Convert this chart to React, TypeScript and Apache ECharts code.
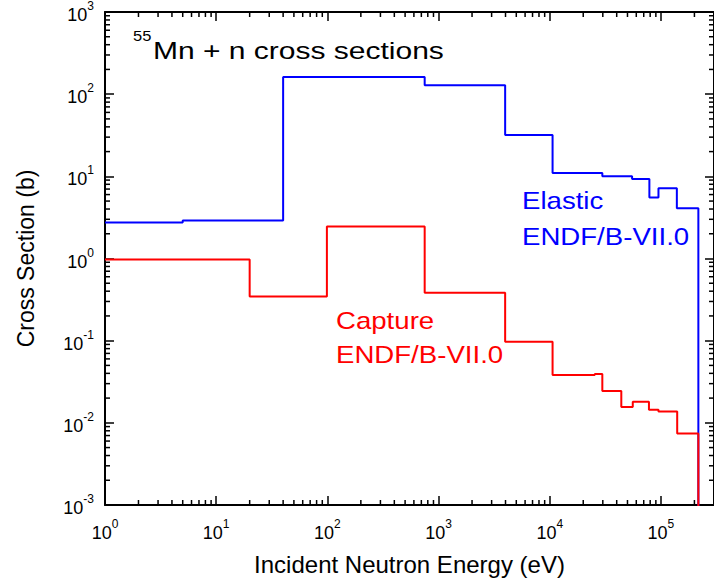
import React, { useEffect, useRef } from 'react';
import * as echarts from 'echarts';

// Elastic (blue) step histogram: group boundaries (eV) and cross sections (b)
const elasticEdges = [1, 5, 40, 750, 3970, 10600, 29700, 55000, 78700, 95000, 139000, 217000];
const elasticValues = [2.75, 2.91, 162, 128, 31.8, 11.0, 10.0, 9.3, 5.53, 7.18, 4.1];

// Capture (red) step histogram
const captureEdges = [1, 20, 99, 750, 3970, 10600, 25400, 29700, 44000, 55800, 78000, 95000, 140000, 217000];
const captureValues = [0.97, 0.345, 2.46, 0.382, 0.097, 0.0383, 0.0392, 0.0244, 0.0156, 0.0181, 0.0144, 0.0137, 0.0074];

const xMin = 1;
const xMax = 3e5;
const yMin = 1e-3;
const yMax = 1e3;
const xDecades = [0, 1, 2, 3, 4, 5];
const yDecades = [-3, -2, -1, 0, 1, 2];
const minorSteps = [2, 3, 4, 5, 6, 7, 8, 9];
const floorValue = 1e-6;

const FONT = '"Liberation Sans", Arial, sans-serif';

function stepData(edges: number[], values: number[]) {
  const pts: number[][] = values.map((v, i) => [edges[i], v]);
  pts.push([edges[edges.length - 1], floorValue]);
  return pts;
}

function supLabel(v: number) {
  const e = Math.log10(v);
  const r = Math.round(e);
  if (Math.abs(e - r) > 1e-6) return '';
  return `{b|10}{s|${r}}`;
}

const labelRich = {
  b: { fontSize: 18, fontFamily: FONT, color: '#000', verticalAlign: 'bottom', lineHeight: 24 },
  s: { fontSize: 12, fontFamily: FONT, color: '#000', verticalAlign: 'top', lineHeight: 24 },
};

const axisLine = { show: true, onZero: false, lineStyle: { color: '#000', width: 2 } };
const majorTick = { show: true, inside: true, length: 9, lineStyle: { color: '#000', width: 1.5 } };

export default function App() {
  const ref = useRef<HTMLDivElement>(null);
  useEffect(() => {
    if (!ref.current) return;
    const chart = echarts.init(ref.current, undefined, { renderer: 'svg' });
    const option: any = {
      animation: false,
      backgroundColor: '#fff',
      grid: { left: 105, top: 10, width: 613, height: 495, containLabel: false },
      xAxis: [
        {
          type: 'log', logBase: 10, min: xMin, max: xMax, position: 'bottom', splitNumber: 5,
          axisLine, axisTick: majorTick, splitLine: { show: false }, minorTick: { show: false },
          axisLabel: { show: true, margin: 13, formatter: supLabel, rich: labelRich, showMaxLabel: false },
          name: 'Incident Neutron Energy (eV)', nameLocation: 'middle', nameGap: 47,
          nameTextStyle: { fontSize: 24, fontFamily: FONT, color: '#000' },
        },
        {
          type: 'log', logBase: 10, min: xMin, max: xMax, position: 'top', splitNumber: 5,
          axisLine, axisTick: majorTick, splitLine: { show: false }, axisLabel: { show: false },
        },
      ],
      yAxis: [
        {
          type: 'log', logBase: 10, min: yMin, max: yMax, position: 'left', splitNumber: 6,
          axisLine, axisTick: majorTick, splitLine: { show: false }, minorTick: { show: false },
          axisLabel: { show: true, margin: 11, formatter: supLabel, rich: labelRich },
          name: 'Cross Section (b)', nameLocation: 'middle', nameGap: 68, nameRotate: 90,
          nameTextStyle: { fontSize: 23, fontFamily: FONT, color: '#000' },
        },
        {
          type: 'log', logBase: 10, min: yMin, max: yMax, position: 'right', splitNumber: 6,
          axisLine, axisTick: majorTick, splitLine: { show: false }, axisLabel: { show: false },
        },
      ],
      series: [
        {
          type: 'custom', xAxisIndex: 0, yAxisIndex: 0, data: [[1, 1]], silent: true,
          renderItem: (params: any, api: any) => {
            const cs = params.coordSys;
            const left = cs.x, top = cs.y, right = cs.x + cs.width, bottom = cs.y + cs.height;
            const L = 5;
            const st = { stroke: '#000', lineWidth: 1.5 };
            const children: any[] = [];
            for (const d of xDecades) {
              for (const m of minorSteps) {
                const v = m * Math.pow(10, d);
                if (v >= xMax) continue;
                const px = api.coord([v, 1])[0];
                children.push({ type: 'line', shape: { x1: px, y1: bottom, x2: px, y2: bottom - L }, style: st });
                children.push({ type: 'line', shape: { x1: px, y1: top, x2: px, y2: top + L }, style: st });
              }
            }
            for (const d of yDecades) {
              for (const m of minorSteps) {
                const v = m * Math.pow(10, d);
                if (v >= yMax) continue;
                const py = api.coord([1, v])[1];
                children.push({ type: 'line', shape: { x1: left, y1: py, x2: left + L, y2: py }, style: st });
                children.push({ type: 'line', shape: { x1: right, y1: py, x2: right - L, y2: py }, style: st });
              }
            }
            return { type: 'group', children };
          },
        },
        {
          name: 'Elastic', type: 'line', step: 'end', xAxisIndex: 0, yAxisIndex: 0,
          data: stepData(elasticEdges, elasticValues), showSymbol: false, symbol: 'none',
          lineStyle: { color: '#0000ff', width: 2 }, clip: true,
        },
        {
          name: 'Capture', type: 'line', step: 'end', xAxisIndex: 0, yAxisIndex: 0,
          data: stepData(captureEdges, captureValues), showSymbol: false, symbol: 'none',
          lineStyle: { color: '#ff0000', width: 2 }, clip: true,
        },
      ],
      graphic: [
        { type: 'text', x: 133, y: 36, scaleX: 1.1, style: { text: '55', fontSize: 15, fontFamily: FONT, fill: '#000', verticalAlign: 'middle' } },
        { type: 'text', x: 153, y: 51, scaleX: 1.25, style: { text: 'Mn + n cross sections', fontSize: 24, fontFamily: FONT, fill: '#000', verticalAlign: 'middle' } },
        { type: 'text', x: 522, y: 201, scaleX: 1.15, style: { text: 'Elastic', fontSize: 24, fontFamily: FONT, fill: '#0000ff', verticalAlign: 'middle' } },
        { type: 'text', x: 522, y: 237, scaleX: 1.15, style: { text: 'ENDF/B-VII.0', fontSize: 24, fontFamily: FONT, fill: '#0000ff', verticalAlign: 'middle' } },
        { type: 'text', x: 336, y: 321, scaleX: 1.15, style: { text: 'Capture', fontSize: 24, fontFamily: FONT, fill: '#ff0000', verticalAlign: 'middle' } },
        { type: 'text', x: 336, y: 355, scaleX: 1.15, style: { text: 'ENDF/B-VII.0', fontSize: 24, fontFamily: FONT, fill: '#ff0000', verticalAlign: 'middle' } },
      ],
    };
    chart.setOption(option);
    return () => chart.dispose();
  }, []);
  return <div ref={ref} style={{ position: 'fixed', left: 0, top: 0, width: 714, height: 585 }} />;
}
